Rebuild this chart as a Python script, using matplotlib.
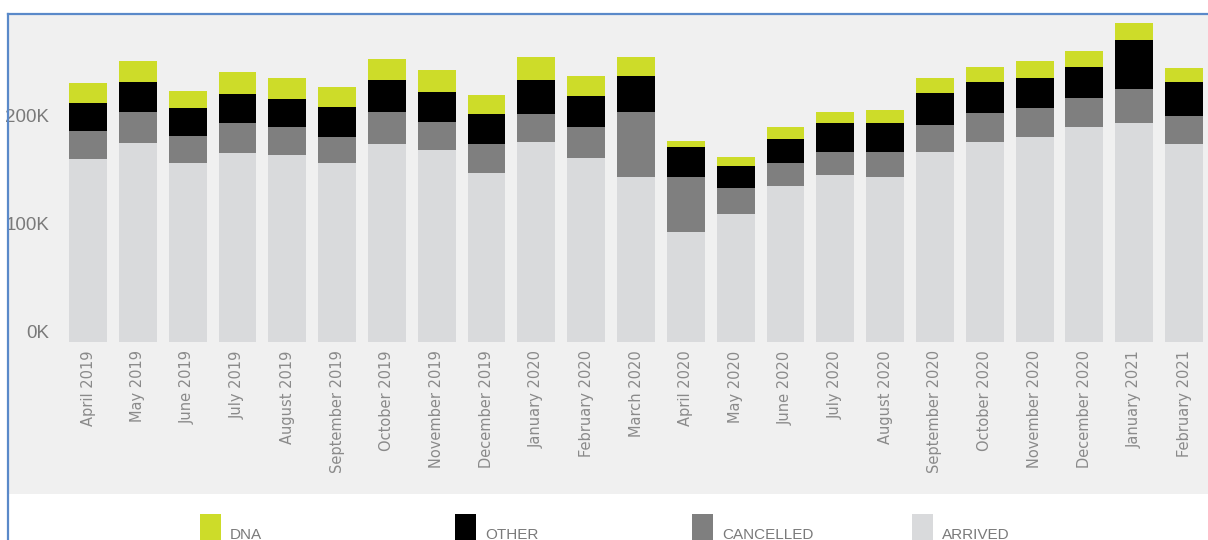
import matplotlib
matplotlib.use("Agg")
import matplotlib.pyplot as plt
from matplotlib.patches import Rectangle
from matplotlib.lines import Line2D
from matplotlib import font_manager
import numpy as np

months = ["April 2019", "May 2019", "June 2019", "July 2019", "August 2019",
          "September 2019", "October 2019", "November 2019", "December 2019",
          "January 2020", "February 2020", "March 2020", "April 2020", "May 2020",
          "June 2020", "July 2020", "August 2020", "September 2020", "October 2020",
          "November 2020", "December 2020", "January 2021", "February 2021"]

# values in thousands
arrived   = [169.2, 184.5, 165.5, 174.7, 172.9, 165.5, 183.1, 177.8, 156.2, 184.9, 170.6, 153.1,
             102.1, 118.2, 144.7, 154.6, 153.1, 176.2, 184.9, 190.1, 199.4, 202.5, 183.3]
cancelled = [26.4, 28.7, 25.2, 27.8, 26.5, 24.6, 30.1, 26.2, 27.1, 26.5, 28.2, 60.1,
             51.0, 24.7, 20.8, 21.6, 23.1, 24.7, 26.9, 26.8, 26.2, 31.8, 26.2]
other     = [26.0, 27.8, 25.7, 27.4, 25.6, 27.8, 29.4, 27.8, 27.5, 31.2, 29.3, 33.1,
             27.7, 20.1, 22.5, 26.3, 26.3, 29.4, 29.2, 27.3, 29.3, 45.3, 31.5]
dna       = [17.9, 19.5, 16.3, 20.4, 19.2, 17.9, 19.7, 20.1, 17.9, 21.6, 18.5, 17.9,
             5.6, 8.0, 10.8, 10.7, 12.3, 13.9, 13.9, 16.3, 14.5, 16.0, 12.4]

ytick_vals = [0, 100, 200]
ytick_labels = ["0K", "100K", "200K"]
series_names = ["DNA", "OTHER", "CANCELLED", "ARRIVED"]

c_dna, c_other, c_canc, c_arr = "#cddc29", "#000000", "#7f7f7f", "#d9dadc"
W, H = 1208, 540

available = {f.name for f in font_manager.fontManager.ttflist}
narrow = "Liberation Sans Narrow" if "Liberation Sans Narrow" in available else "Liberation Sans"

fig = plt.figure(figsize=(W / 100, H / 100), dpi=100)
fig.patch.set_facecolor("white")

def fx(x):
    return x / W

def fy(y):
    return 1 - y / H

# gray panel as a background axes
bg = fig.add_axes([fx(9), fy(493.5), fx(1208 - 9), (493.5 - 14) / H], zorder=-5)
bg.set_facecolor("#f0f0f0")
bg.set_xticks([]); bg.set_yticks([])
for s in bg.spines.values():
    s.set_visible(False)

# blue borders
fig.add_artist(Line2D([fx(8), 1], [fy(13.5), fy(13.5)], color="#5a89c9", lw=1.6, zorder=5))
fig.add_artist(Line2D([fx(8), fx(8)], [fy(13.5), 0], color="#5a89c9", lw=1.6, zorder=5))

step = 49.82
left_px = 88 - step / 2
ax = fig.add_axes([fx(left_px), fy(342), 23 * step / W, (342 - 14) / H], zorder=1)
ax.set_facecolor("none")
x = np.arange(len(months))
bw = 0.76
arr = np.array(arrived); can = np.array(cancelled); oth = np.array(other); dn = np.array(dna)
ax.bar(x, arr, bw, color=c_arr, label="ARRIVED")
ax.bar(x, can, bw, bottom=arr, color=c_canc, label="CANCELLED")
ax.bar(x, oth, bw, bottom=arr + can, color=c_other, label="OTHER")
ax.bar(x, dn, bw, bottom=arr + can + oth, color=c_dna, label="DNA")

ax.set_xlim(-0.5, len(months) - 0.5)
ax.set_ylim(0, 328 / 1.08)
for s in ax.spines.values():
    s.set_visible(False)

ax.set_xticks(x)
ax.set_xticklabels(months, rotation=90, fontsize=10.5, color="#8a8a8a", va="top", ha="center")
ax.tick_params(axis="x", length=0, pad=6)

ax.set_yticks(ytick_vals)
ax.set_yticklabels(ytick_labels, fontsize=13.5, color="#7a7a7a", va="bottom",
                   family=[narrow, "DejaVu Sans"])
ax.tick_params(axis="y", length=0, pad=10)

# legend
legend_items = [("DNA", c_dna, 200), ("OTHER", c_other, 455),
                ("CANCELLED", c_canc, 692), ("ARRIVED", c_arr, 912)]
for name, col, xpx in legend_items:
    fig.add_artist(Rectangle((fx(xpx), fy(545)), 21 / W, (545 - 514) / H,
                             transform=fig.transFigure, facecolor=col,
                             edgecolor="none", zorder=2))
    fig.text(fx(xpx + 30), fy(528), name, fontsize=11, color="#7a7a7a", va="top",
             ha="left", family=[narrow, "DejaVu Sans"])

fig.savefig("out.png", dpi=100, facecolor="white")
